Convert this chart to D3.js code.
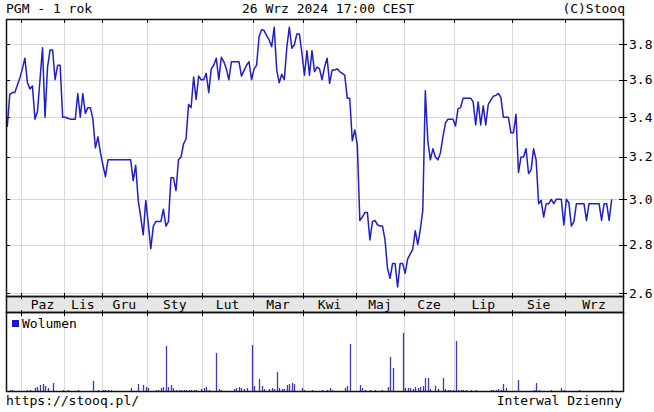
<!DOCTYPE html>
<html>
<head>
<meta charset="utf-8">
<script src="https://cdn.jsdelivr.net/npm/d3@7"></script>
<style>
body { margin: 0; background: #fff; }
svg text { font-family: "DejaVu Sans Mono", monospace; font-size: 13px; fill: #000; }
</style>
</head>
<body>
<svg id="chart"></svg>
<script>
const svgWidth = 654;
const svgHeight = 412;

// month labels (first chunk is the tail of Sep 2023, no label)
const monthNames = ["", "Paz", "Lis", "Gru", "Sty", "Lut", "Mar", "Kwi", "Maj", "Cze", "Lip", "Sie", "Wrz"];

// closing prices per session, grouped by month
const closeSep23 = [3.35, 3.52, 3.53, 3.53, 3.57, 3.61];
const closeOct = [3.66, 3.72, 3.585, 3.55, 3.565, 3.39, 3.43, 3.6, 3.78, 3.40, 3.67, 3.767, 3.767, 3.60, 3.68, 3.68, 3.40];
const closeNov = [3.40, 3.395, 3.39, 3.39, 3.39, 3.525, 3.40, 3.525, 3.42, 3.45, 3.45, 3.39, 3.245, 3.30, 3.22];
const closeDec = [3.16, 3.105, 3.186, 3.186, 3.186, 3.186, 3.186, 3.186, 3.186, 3.186, 3.186, 3.186, 3.087, 3.16, 2.995, 2.92, 2.842, 2.995];
const closeJan = [2.89, 2.783, 2.88, 2.90, 2.90, 2.90, 2.955, 2.88, 2.90, 3.10, 3.10, 3.04, 3.186, 3.20, 3.264, 3.29, 3.467, 3.45, 3.615, 3.493, 3.62, 3.60];
const closeFeb = [3.60, 3.635, 3.53, 3.66, 3.68, 3.72, 3.60, 3.725, 3.70, 3.66, 3.60, 3.70, 3.70, 3.70, 3.70, 3.62, 3.65, 3.68, 3.70, 3.60];
const closeMar = [3.66, 3.68, 3.845, 3.885, 3.88, 3.85, 3.825, 3.786, 3.90, 3.653, 3.583, 3.63, 3.60, 3.78, 3.90, 3.777, 3.797, 3.86, 3.86, 3.748];
const closeApr = [3.625, 3.763, 3.625, 3.763, 3.645, 3.67, 3.66, 3.60, 3.67, 3.72, 3.58, 3.653, 3.653, 3.66, 3.645, 3.635, 3.625, 3.50, 3.50, 3.28, 3.335];
const closeMay = [3.26, 2.905, 2.92, 2.94, 2.94, 2.82, 2.90, 2.905, 2.886, 2.88, 2.88, 2.82, 2.70, 2.66, 2.72, 2.72, 2.625, 2.72, 2.72];
const closeJun = [2.68, 2.74, 2.76, 2.78, 2.86, 2.80, 2.864, 2.95, 3.54, 3.28, 3.186, 3.24, 3.20, 3.186, 3.22, 3.30, 3.37, 3.39, 3.39, 3.39];
const closeJul = [3.355, 3.445, 3.45, 3.50, 3.50, 3.50, 3.50, 3.48, 3.36, 3.48, 3.36, 3.46, 3.36, 3.467, 3.49, 3.51, 3.515, 3.525, 3.505, 3.40, 3.40, 3.40, 3.32];
const closeAug = [3.32, 3.415, 3.125, 3.20, 3.20, 3.24, 3.12, 3.138, 3.24, 3.186, 2.98, 2.995, 2.92, 2.98, 2.98, 3.0, 2.98, 3.0, 3.0, 3.0, 2.885];
const closeSep = [3.0, 2.985, 2.88, 2.90, 2.98, 2.98, 2.98, 2.98, 2.905, 2.98, 2.98, 2.98, 2.98, 2.98, 2.905, 2.98, 2.98, 2.905, 3.0];

// volume per session (thousands), same grouping
const volSep23 = [0, 1, 1, 0, 0, 0];
const volOct = [0, 0, 1, 1, 0, 3, 4, 6, 7, 5, 3, 0, 8, 0, 0, 0, 1];
const volNov = [0, 1, 0, 0, 0, 1, 0, 0, 0, 0, 0, 10, 0, 1, 0];
const volDec = [1, 1, 1, 1, 0, 0, 0, 0, 0, 0, 0, 3, 0, 0, 7, 0, 6, 4];
const volJan = [3, 0, 0, 1, 1, 3, 4, 45, 4, 6, 3, 1, 1, 1, 1, 1, 1, 1, 1, 1, 0, 2];
const volFeb = [3, 4, 1, 0, 0, 38, 2, 1, 0, 0, 0, 0, 2, 3, 4, 3, 2, 3, 0, 46];
const volMar = [5, 0, 12, 5, 2, 0, 2, 3, 2, 19, 3, 2, 2, 6, 7, 8, 7, 0, 0, 3];
const volApr = [1, 0, 0, 1, 0, 0, 0, 1, 0, 1, 3, 1, 0, 0, 0, 0, 3, 5, 47, 0, 0];
const volMay = [0, 6, 3, 1, 0, 1, 0, 1, 0, 0, 1, 0, 4, 34, 23, 0, 0, 0, 58];
const volJun = [3, 3, 3, 2, 4, 3, 4, 5, 13, 13, 2, 0, 5, 2, 0, 13, 2, 1, 1, 1];
const volJul = [50, 1, 1, 1, 1, 0, 1, 0, 1, 0, 0, 0, 0, 0, 1, 1, 1, 2, 1, 7, 3, 0, 0];
const volAug = [0, 0, 11, 0, 0, 0, 0, 0, 1, 8, 1, 0, 0, 0, 0, 1, 0, 0, 0, 3, 1];
const volSep = [0, 0, 0, 0, 0, 1, 0, 0, 0, 0, 0, 0, 0, 0, 0, 0, 0, 0, 1];

const priceTicks = [2.6, 2.8, 3.0, 3.2, 3.4, 3.6, 3.8];
const emptySlots = 4; // room left after the last session

const closeMonths = [closeSep23, closeOct, closeNov, closeDec, closeJan, closeFeb, closeMar, closeApr, closeMay, closeJun, closeJul, closeAug, closeSep];
const volMonths = [volSep23, volOct, volNov, volDec, volJan, volFeb, volMar, volApr, volMay, volJun, volJul, volAug, volSep];

const closes = closeMonths.flat();
const volumes = volMonths.flat();

// session index where each month starts
let monthStart = [];
let acc = 0;
for (let m = 0; m < closeMonths.length; m++) {
  monthStart.push(acc);
  acc += closeMonths[m].length;
}
const slots = closes.length + emptySlots;

const left = 6, right = 623;
const priceTop = 19, priceBottom = 296;
const bandBottom = 312;
const volBottom = 391;

const x = d3.scaleLinear().domain([0, slots]).range([left, right]);
const y = d3.scaleLog().domain([2.589, 3.949]).range([priceBottom, priceTop]);
const yVol = d3.scaleLinear().domain([0, 79]).range([volBottom, bandBottom]);

let svg = d3.select('#chart')
  .attr('width', svgWidth)
  .attr('height', svgHeight);

const px = v => Math.round(v) + 0.5;

// header
svg.append('text').attr('x', 6).attr('y', 13).text('PGM - 1 rok');
svg.append('text').attr('x', 328).attr('y', 13).attr('text-anchor', 'middle').text('26 Wrz 2024 17:00 CEST');
svg.append('text').attr('x', 625).attr('y', 13).attr('text-anchor', 'end').text('(C)Stooq');

// month band
svg.append('rect')
  .attr('x', left).attr('y', priceBottom)
  .attr('width', right - left).attr('height', bandBottom - priceBottom)
  .attr('fill', '#e6e6e6');

// horizontal grid
let grid = svg.append('g').attr('stroke', '#d9d9d9').attr('shape-rendering', 'crispEdges');
grid.selectAll('line.h')
  .data(priceTicks)
  .enter().append('line')
  .attr('class', 'h')
  .attr('x1', left).attr('x2', right)
  .attr('y1', d => px(y(d))).attr('y2', d => px(y(d)));

// vertical grid at month boundaries (price + volume panels)
const bounds = monthStart.slice(1);
grid.selectAll('line.vp')
  .data(bounds)
  .enter().append('line')
  .attr('class', 'vp')
  .attr('x1', d => px(x(d))).attr('x2', d => px(x(d)))
  .attr('y1', priceTop).attr('y2', priceBottom);
grid.selectAll('line.vv')
  .data(bounds)
  .enter().append('line')
  .attr('class', 'vv')
  .attr('x1', d => px(x(d))).attr('x2', d => px(x(d)))
  .attr('y1', bandBottom).attr('y2', volBottom);

// month labels
svg.append('g').selectAll('text')
  .data(monthNames.map((n, i) => ({ name: n, i: i })).filter(d => d.name !== ''))
  .enter().append('text')
  .attr('x', d => {
    let s = monthStart[d.i];
    let e = d.i + 1 < monthStart.length ? monthStart[d.i + 1] : slots;
    return (x(s) + x(e)) / 2;
  })
  .attr('y', 309)
  .attr('text-anchor', 'middle')
  .text(d => d.name);

// volume bars
svg.append('g')
  .selectAll('line')
  .data(volumes.map((v, i) => ({ v: v, i: i })).filter(d => d.v > 0))
  .enter().append('line')
  .attr('x1', d => px(x(d.i + 0.5))).attr('x2', d => px(x(d.i + 0.5)))
  .attr('y1', volBottom).attr('y2', d => yVol(d.v))
  .attr('stroke', '#3b3bb3')
  .attr('stroke-width', 1.3);

// volume legend
svg.append('rect').attr('x', 12).attr('y', 320).attr('width', 7).attr('height', 7).attr('fill', '#1a1acc');
svg.append('text').attr('x', 22).attr('y', 328).text('Wolumen');

// price line
const line = d3.line()
  .x((d, i) => x(i + 0.5))
  .y(d => y(d));
svg.append('path')
  .datum(closes)
  .attr('d', line)
  .attr('fill', 'none')
  .attr('stroke', '#1f1fc4')
  .attr('stroke-width', 1.5)
  .attr('stroke-linejoin', 'round');

// frames
let frame = svg.append('g').attr('fill', 'none').attr('stroke', '#111').attr('stroke-width', 1.5);
frame.append('rect').attr('x', left + 0.5).attr('y', priceTop + 0.5).attr('width', right - left).attr('height', priceBottom - priceTop);
frame.append('rect').attr('x', left + 0.5).attr('y', priceBottom + 0.5).attr('width', right - left).attr('height', bandBottom - priceBottom);
frame.append('rect').attr('x', left + 0.5).attr('y', bandBottom + 0.5).attr('width', right - left).attr('height', volBottom - bandBottom);

// ticks
let ticks = svg.append('g').attr('stroke', '#000').attr('shape-rendering', 'crispEdges');
priceTicks.forEach(t => {
  let yy = px(y(t));
  ticks.append('line').attr('x1', left).attr('x2', left + 4).attr('y1', yy).attr('y2', yy);
  ticks.append('line').attr('x1', right - 4).attr('x2', right + 4).attr('y1', yy).attr('y2', yy);
});
bounds.forEach(b => {
  let xx = px(x(b));
  ticks.append('line').attr('x1', xx).attr('x2', xx).attr('y1', priceTop).attr('y2', priceTop + 4);
  ticks.append('line').attr('x1', xx).attr('x2', xx).attr('y1', priceBottom - 3).attr('y2', priceBottom + 3);
  ticks.append('line').attr('x1', xx).attr('x2', xx).attr('y1', bandBottom - 2).attr('y2', bandBottom + 4);
});

// right axis labels
svg.append('g').selectAll('text')
  .data(priceTicks)
  .enter().append('text')
  .attr('x', 629)
  .attr('y', d => y(d) + 4.5)
  .text(d => d.toFixed(1));

// footer
svg.append('text').attr('x', 6).attr('y', 405).text('https://stooq.pl/');
svg.append('text').attr('x', 622).attr('y', 405).attr('text-anchor', 'end').text('Interwal Dzienny');
</script>
</body>
</html>
